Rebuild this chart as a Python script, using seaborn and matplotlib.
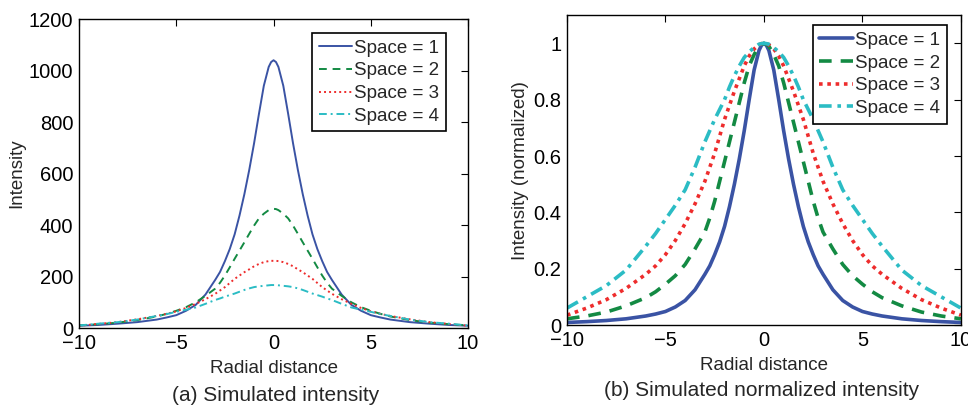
import numpy as np
import pandas as pd
import seaborn as sns
import matplotlib
matplotlib.use("Agg")
import matplotlib.pyplot as plt

# distance from the peak (the profiles are mirrored about 0)
dist = [0, 0.125, 0.25, 0.5, 0.75, 1, 1.25, 1.5, 1.75, 2, 2.25, 2.5, 2.75, 3, 3.5, 4, 4.5, 5, 5.5, 6, 7, 8, 9, 10]

# (a) simulated intensity
int_s1 = [1040, 1033, 1014, 941, 832, 718, 614, 520, 437, 364, 307, 260, 218, 187, 130, 90, 67, 50, 41, 33, 23, 17, 12, 9]
int_s2 = [463, 462, 458, 444, 426, 398, 366, 333, 301, 269, 236, 204, 176, 153, 125, 100, 81, 67, 55, 45, 31, 21, 15, 10]
int_s3 = [261, 261, 260, 256, 249, 240, 228, 217, 204, 191, 175, 159, 146, 133, 112, 94, 78, 65, 55, 47, 34, 23, 16, 9]
int_s4 = [167, 167, 166, 164, 162, 159, 154, 148, 141, 134, 128, 122, 115, 109, 94, 80, 71, 63, 54, 47, 33, 23, 17, 10]

# (b) simulated normalized intensity
norm_s1 = [1.0, 0.993, 0.975, 0.905, 0.80, 0.69, 0.59, 0.50, 0.42, 0.35, 0.295, 0.25, 0.21, 0.18, 0.125, 0.087, 0.064, 0.048, 0.039, 0.032, 0.022, 0.016, 0.012, 0.009]
norm_s2 = [1.0, 0.997, 0.99, 0.96, 0.92, 0.86, 0.79, 0.72, 0.65, 0.58, 0.51, 0.44, 0.38, 0.33, 0.27, 0.215, 0.175, 0.145, 0.118, 0.097, 0.068, 0.046, 0.032, 0.022]
norm_s3 = [1.0, 0.999, 0.995, 0.98, 0.955, 0.92, 0.875, 0.83, 0.78, 0.73, 0.67, 0.61, 0.56, 0.51, 0.43, 0.36, 0.30, 0.25, 0.21, 0.18, 0.13, 0.09, 0.06, 0.035]
norm_s4 = [1.0, 0.999, 0.997, 0.985, 0.97, 0.95, 0.92, 0.885, 0.845, 0.80, 0.765, 0.73, 0.69, 0.65, 0.56, 0.48, 0.425, 0.375, 0.325, 0.28, 0.195, 0.14, 0.10, 0.06]

labels = ["Space = 1", "Space = 2", "Space = 3", "Space = 4"]
colors = ["#3A53A4", "#138A43", "#EE2C2C", "#2BBCC4"]


def mirror(d, v):
    x = [-a for a in d[:0:-1]] + list(d)
    y = list(v[:0:-1]) + list(v)
    return x, y


def make_df(series):
    rows = []
    for lab, vals in zip(labels, series):
        x, y = mirror(dist, vals)
        for xi, yi in zip(x, y):
            rows.append((xi, yi, lab))
    return pd.DataFrame(rows, columns=["r", "v", "space"])


df_a = make_df([int_s1, int_s2, int_s3, int_s4])
df_b = make_df([norm_s1, norm_s2, norm_s3, norm_s4])

sns.set_theme(style="white")
plt.rcParams["font.family"] = ["Liberation Sans", "DejaVu Sans"]
plt.rcParams["axes.unicode_minus"] = True

fig = plt.figure(figsize=(9.68, 4.05), dpi=100)
ax1 = fig.add_axes([0.0816, 0.190, 0.402, 0.763])
ax2 = fig.add_axes([0.5857, 0.1975, 0.407, 0.765])

pal = dict(zip(labels, colors))
dash_a = dict(zip(labels, ["", (4, 3), (1, 1.6), (4, 2, 1, 2)]))
dash_b = dict(zip(labels, ["", (3.5, 2.5), (1, 1.3), (3.5, 1.6, 1, 1.6)]))

sns.lineplot(data=df_a, x="r", y="v", hue="space", style="space", palette=pal,
             dashes=dash_a, linewidth=1.4, ax=ax1, sort=True)
sns.lineplot(data=df_b, x="r", y="v", hue="space", style="space", palette=pal,
             dashes=dash_b, linewidth=2.6, ax=ax2, sort=True)

fs = 13.5
for ax in (ax1, ax2):
    ax.set_xlim(-10, 10)
    ax.set_xticks([-10, -5, 0, 5, 10])
    ax.tick_params(direction="in", top=True, right=True, length=5, width=0.8,
                   labelsize=14.5, colors="black", pad=4)
    for s in ax.spines.values():
        s.set_color("black")
        s.set_linewidth(1.0)
    ax.set_xlabel("Radial distance", fontsize=fs, labelpad=5)

ax1.set_ylim(0, 1200)
ax1.set_yticks(range(0, 1201, 200))
ax1.set_ylabel("Intensity", fontsize=fs, labelpad=3)

ax2.set_ylim(0, 1.1)
ax2.set_yticks([0, 0.2, 0.4, 0.6, 0.8, 1])
ax2.set_yticklabels(["0", "0.2", "0.4", "0.6", "0.8", "1"])
ax2.set_ylabel("Intensity (normalized)", fontsize=fs, labelpad=3)

for ax, anchor in ((ax1, (0.943, 0.955)), (ax2, (0.964, 0.968))):
    sns.move_legend(ax, "upper right", bbox_to_anchor=anchor, title=None,
                    frameon=True, fancybox=False, fontsize=13.5,
                    handlelength=1.8, handletextpad=0.1, borderpad=0.35,
                    labelspacing=0.3, borderaxespad=0)
    fr = ax.get_legend().get_frame()
    fr.set_edgecolor("black")
    fr.set_linewidth(1.2)
    fr.set_alpha(1)

fig.text(0.285, 0.024, "(a) Simulated intensity", ha="center", va="center", fontsize=15)
fig.text(0.787, 0.037, "(b) Simulated normalized intensity", ha="center", va="center", fontsize=15)

fig.savefig("out.png", dpi=100)
